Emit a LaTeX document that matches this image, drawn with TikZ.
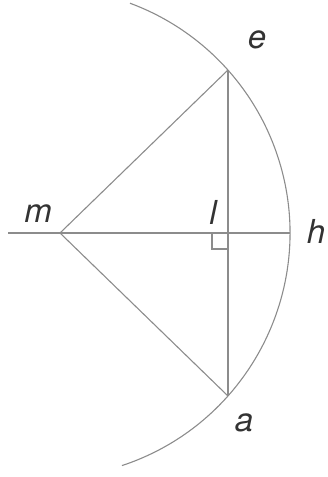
\documentclass[tikz,border=0pt]{standalone}
\usepackage{fontspec}
\setmainfont{TeX Gyre Heros}
\begin{document}
\begin{tikzpicture}[x=1pt,y=1pt,
  geo/.style={draw=black!45,line width=1.1pt},
  lab/.style={font=\fontsize{33}{33}\selectfont\itshape,text=black!80,inner sep=0pt}]
\useasboundingbox (0,0) rectangle (327,477);
\coordinate (c) at (45,244);
\coordinate (m) at (60,244);
\coordinate (e) at (228,407);
\coordinate (a) at (228,81);
\coordinate (l) at (228,244);
\coordinate (h) at (290,244);
\coordinate (s) at (8,244);
\draw[geo] ([shift={(-71.7:245)}]c) arc[start angle=-71.7,end angle=69.7,radius=245];
\draw[geo] (s) -- (h);
\draw[geo] (e) -- (a);
\draw[geo] (m) -- (e);
\draw[geo] (m) -- (a);
\draw[geo] ([xshift=-16]l) -- ([xshift=-16,yshift=-16]l) -- ([yshift=-16]l);
\node[lab] (le) at (257,437) {e};
\node[lab] (lm) at (38,263) {m};
\node[lab] (ll) at (213,265) {l};
\node[lab] (lh) at (316,246) {h};
\node[lab] (la) at (244,54) {a};
\end{tikzpicture}
\end{document}
